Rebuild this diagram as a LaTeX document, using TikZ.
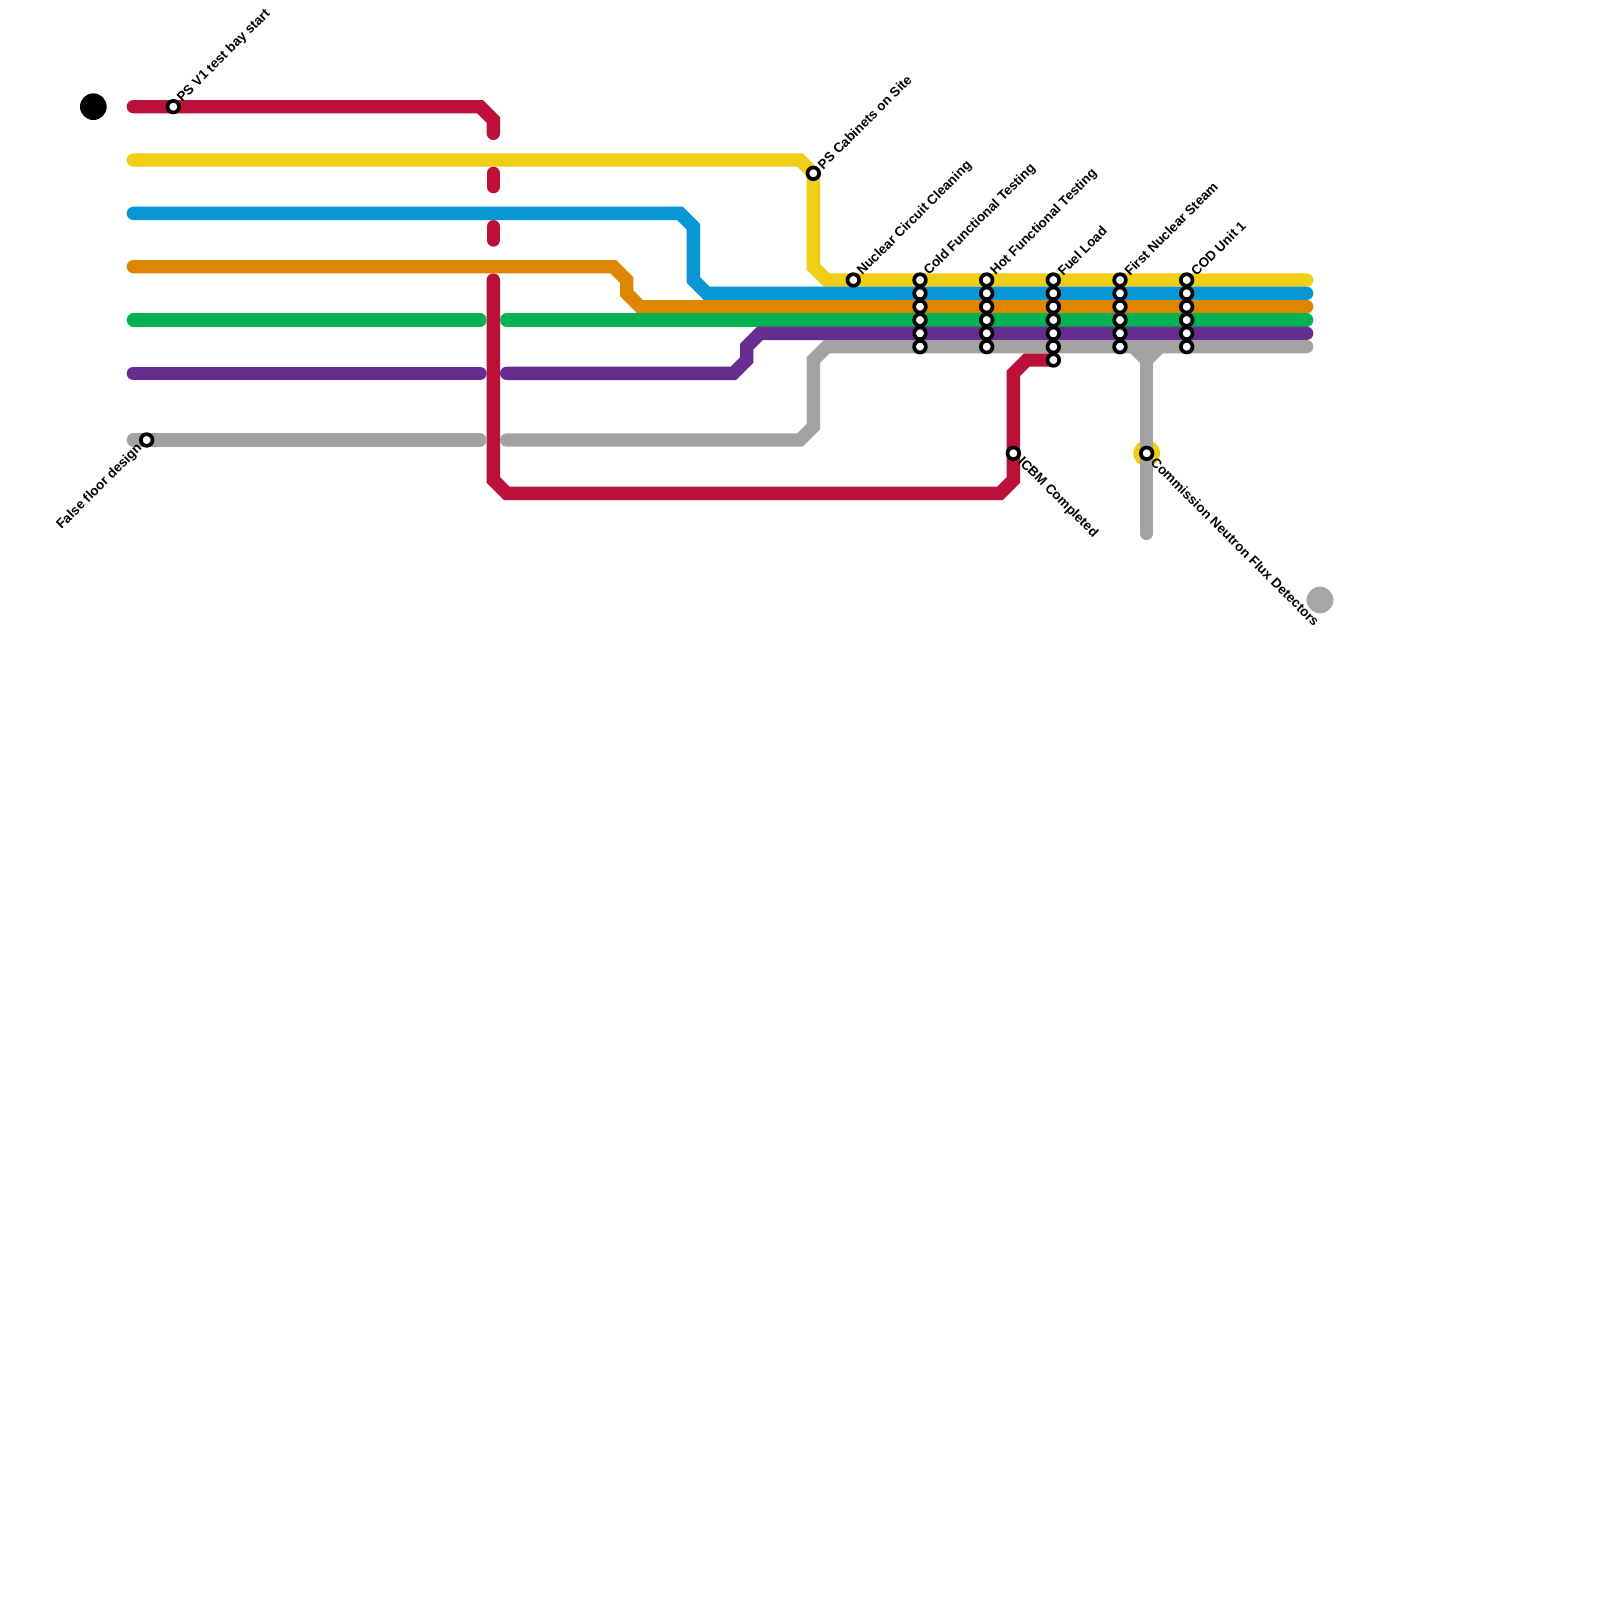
\documentclass[tikz,border=0pt]{standalone}
\usepackage{fontspec}
\setmainfont{Liberation Sans}
\definecolor{lred}{HTML}{BD1038}
\definecolor{lyellow}{HTML}{F0CE15}
\definecolor{lblue}{HTML}{0896D7}
\definecolor{lorange}{HTML}{DF8600}
\definecolor{lgreen}{HTML}{00B251}
\definecolor{lpurple}{HTML}{662C90}
\definecolor{lgray}{HTML}{A2A2A2}
\definecolor{egray}{HTML}{A7A7A7}
\tikzset{
  metro/.style={line width=0.4cm,line cap=round,miter limit=10},
  stn/.style={circle,draw=black,fill=white,line width=0.11cm,minimum size=0.35cm,inner sep=0pt,outer sep=0pt},
  lab/.style={font=\fontsize{11.4pt}{13pt}\selectfont\bfseries,inner sep=0pt,text=black},
  labup/.style={lab,anchor=west,rotate=45},
  labdown/.style={lab,anchor=west,rotate=-45},
  lableft/.style={lab,anchor=east,rotate=45},
  endpt/.style={circle,inner sep=0pt,outer sep=0pt,minimum size=0.8cm}
}
\begin{document}
\begin{tikzpicture}[x=0.4cm,y=-0.4cm]
\useasboundingbox (0,0) rectangle (120,120);
\fill[white] (0,0) rectangle (120,120);
% end points
\node[endpt,fill=black] (startdot) at (7,8) {};
\node[endpt,fill=egray] (enddot) at (99,45) {};
% yellow blob behind the branch
\node[endpt,fill=lyellow,minimum size=0.8cm] (blob) at (86,34) {};
% red
\draw[metro,lred] (10,8) -- (36,8) -- (37,9) -- (37,10);
\draw[metro,lred] (37,13) -- (37,14);
\draw[metro,lred] (37,17) -- (37,18);
\draw[metro,lred] (37,21) -- (37,36) -- (38,37) -- (75,37) -- (76,36) -- (76,28) -- (77,27) -- (79,27);
% yellow
\draw[metro,lyellow] (10,12) -- (60,12) -- (61,13) -- (61,20) -- (62,21) -- (98,21);
% blue
\draw[metro,lblue] (10,16) -- (51,16) -- (52,17) -- (52,21) -- (53,22) -- (98,22);
% orange
\draw[metro,lorange] (10,20) -- (46,20) -- (47,21) -- (47,22) -- (48,23) -- (98,23);
% green
\draw[metro,lgreen] (10,24) -- (36,24);
\draw[metro,lgreen] (38,24) -- (98,24);
% purple
\draw[metro,lpurple] (10,28) -- (36,28);
\draw[metro,lpurple] (38,28) -- (55,28) -- (56,27) -- (56,26) -- (57,25) -- (98,25);
% gray
\draw[metro,lgray] (10,33) -- (36,33);
\draw[metro,lgray] (38,33) -- (60,33) -- (61,32) -- (61,27) -- (62,26) -- (98,26);
\draw[metro,lgray] (85,26) -- (86,27) -- (87,26);
\draw[metro,lgray] (86,27) -- (86,40);
% single stations
\node[stn] (psv) at (13,8) {};
\node[stn] (false) at (11,33) {};
\node[stn] (psc) at (61,13) {};
\node[stn] (ncc) at (64,21) {};
\node[stn] (icbm) at (76,34) {};
\node[stn] (cnfd) at (86,34) {};
% station columns
\foreach \n/\x in {cft/69,hft/74,fl/79,fns/84,cod/89}{
  \foreach \r in {21,...,26}{
    \node[stn] (\n\r) at (\x,\r) {};
  }
}
\node[stn] (fl27) at (79,27) {};
% labels
\node[labup] (tpsv) at ([xshift=2pt,yshift=2pt]psv.north east) {PS V1 test bay start};
\node[lableft] (tfalse) at ([xshift=-2pt,yshift=-2pt]false.south west) {False floor design};
\node[labup] (tpsc) at ([xshift=2pt,yshift=2pt]psc.north east) {PS Cabinets on Site};
\node[labup] (tncc) at ([xshift=2pt,yshift=2pt]ncc.north east) {Nuclear Circuit Cleaning};
\node[labup] (tcft) at ([xshift=2pt,yshift=2pt]cft21.north east) {Cold Functional Testing};
\node[labup] (thft) at ([xshift=2pt,yshift=2pt]hft21.north east) {Hot Functional Testing};
\node[labup] (tfl) at ([xshift=2pt,yshift=2pt]fl21.north east) {Fuel Load};
\node[labup] (tfns) at ([xshift=2pt,yshift=2pt]fns21.north east) {First Nuclear Steam};
\node[labup] (tcod) at ([xshift=2pt,yshift=2pt]cod21.north east) {COD Unit 1};
\node[labdown] (ticbm) at ([xshift=2pt,yshift=-2pt]icbm.south east) {ICBM Completed};
\node[labdown] (tcnfd) at ([xshift=2pt,yshift=-2pt]cnfd.south east) {Commission Neutron Flux Detectors};
\end{tikzpicture}
\end{document}
